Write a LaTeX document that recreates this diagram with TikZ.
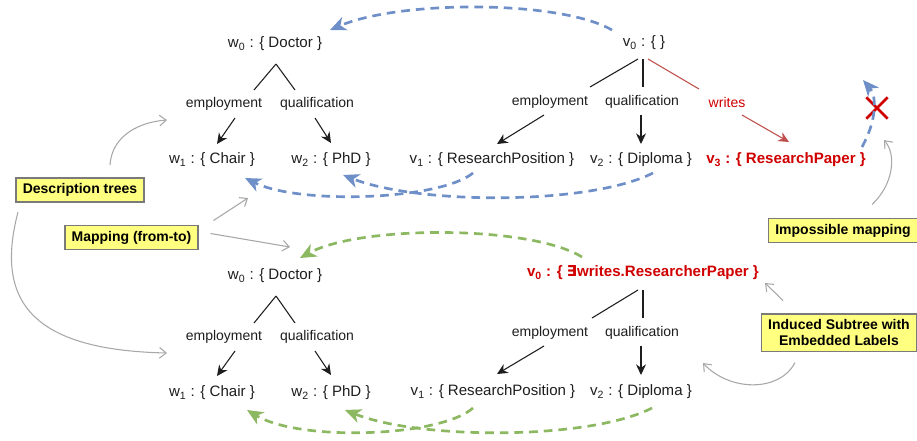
\documentclass[tikz,border=0pt]{standalone}
\usepackage{fontspec}
\setmainfont{Liberation Sans}
\newfontfamily\symfont{DejaVu Sans}
\usepackage{xcolor}
\usepackage{tikz}
\usetikzlibrary{arrows.meta,positioning,calc,shapes.misc}
\definecolor{dtInk}{HTML}{1E1E1E}
\definecolor{dtRed}{HTML}{D00000}
\definecolor{dtRose}{HTML}{C0504D}
\definecolor{dtBlue}{HTML}{6F8FC8}
\definecolor{dtGreen}{HTML}{8BB860}
\definecolor{dtGrey}{HTML}{A8A8A8}
\definecolor{dtNote}{HTML}{FFFF80}
\definecolor{dtFrame}{HTML}{7A7A7A}
\tikzset{
  tree node/.style={text=dtInk,inner sep=2pt,font=\fontsize{11.3}{13}\selectfont},
  bad node/.style={tree node,text=dtRed,font=\fontsize{11.3}{13}\selectfont\bfseries},
  edge label/.style={text=dtInk,inner sep=1pt,font=\fontsize{10.5}{12}\selectfont},
  tree edge/.style={draw=dtInk,line width=0.8pt},
  tree arrow/.style={tree edge,-{Stealth[length=8pt,width=7.5pt]}},
  map arrow/.style={-{Stealth[length=12pt,width=10.5pt,inset=3.5pt]},line width=2pt,
    dash pattern=on 6.5pt off 4.5pt},
  note box/.style={draw=dtFrame,line width=1.2pt,fill=dtNote,inner xsep=5pt,inner ysep=4pt,
    font=\fontsize{10.5}{12.5}\selectfont\bfseries,align=center},
  note arrow/.style={draw=dtGrey,line width=0.8pt,-{Straight Barb[length=5pt,width=8pt]}}
}

\begin{document}
\begin{tikzpicture}[x=0.75pt,y=-0.75pt]
\useasboundingbox[fill=white] (0,0) rectangle (917,440);

% upper pair of description trees
\node[tree node] (w0) at (275,44) {w\textsubscript{0} : \{ Doctor \}};
\node[edge label] (we) at (224,104) {employment};
\node[edge label] (wq) at (317,104) {qualification};
\node[tree node] (w1) at (212,160) {w\textsubscript{1} : \{ Chair \}};
\node[tree node] (w2) at (331,160) {w\textsubscript{2} : \{ PhD \}};

\node[tree node] (v0) at (644,43) {v\textsubscript{0} : \{ \}};
\node[edge label] (ve) at (550,102) {employment};
\node[edge label] (vq) at (642,102) {qualification};
\node[edge label,text=dtRed] (vw) at (727,102) {writes};
\node[tree node] (v1) at (492,160) {v\textsubscript{1} : \{ ResearchPosition \}};
\node[tree node] (v2) at (641,160) {v\textsubscript{2} : \{ Diploma \}};
\node[bad node] (v3) at (786,160) {v\textsubscript{3} : \{ ResearchPaper \}};

\draw[tree edge] ($(w0)+(1,20)$) -- ($(we)+(30,-14)$);
\draw[tree edge] ($(w0)+(1,20)$) -- ($(wq)+(-22,-14)$);
\draw[tree arrow] ($(we)+(11,14)$) -- ($(w1)+(5,-16)$);
\draw[tree arrow] ($(wq)+(-2,14)$) -- ($(w2)+(0,-17)$);

\draw[tree edge] ($(v0)+(-6,16)$) -- ($(ve)+(40,-15)$);
\draw[tree edge] ($(v0)+(-1,16)$) -- ($(vq)+(1,-15)$);
\draw[tree edge,draw=dtRose] ($(v0)+(4,16)$) -- ($(vw)+(-28,-13)$);
\draw[tree arrow] ($(ve)+(-6,13)$) -- ($(v1)+(5,-16)$);
\draw[tree arrow] ($(vq)+(-1,13)$) -- ($(v2)+(0,-16)$);
\draw[tree arrow,draw=dtRose] ($(vw)+(15,13)$) -- ($(v3)+(3,-18)$);

% lower pair, with the labels pushed into the root
\node[tree node] (bw0) at (275,276) {w\textsubscript{0} : \{ Doctor \}};
\node[edge label] (bwe) at (224,337) {employment};
\node[edge label] (bwq) at (317,337) {qualification};
\node[tree node] (bw1) at (212,393) {w\textsubscript{1} : \{ Chair \}};
\node[tree node] (bw2) at (331,393) {w\textsubscript{2} : \{ PhD \}};

\node[bad node] (bv0) at (643,273) {v\textsubscript{0} : \{ {\symfont ∃}writes.ResearcherPaper \}};
\node[edge label] (bve) at (550,333) {employment};
\node[edge label] (bvq) at (642,333) {qualification};
\node[tree node] (bv1) at (493,392) {v\textsubscript{1} : \{ ResearchPosition \}};
\node[tree node] (bv2) at (641,392) {v\textsubscript{2} : \{ Diploma \}};

\draw[tree edge] ($(bw0)+(1,20)$) -- ($(bwe)+(30,-14)$);
\draw[tree edge] ($(bw0)+(1,20)$) -- ($(bwq)+(-22,-14)$);
\draw[tree arrow] ($(bwe)+(11,14)$) -- ($(bw1)+(5,-17)$);
\draw[tree arrow] ($(bwq)+(-2,14)$) -- ($(bw2)+(0,-18)$);

\draw[tree edge] ($(bv0)+(-5,17)$) -- ($(bve)+(42,-15)$);
\draw[tree edge] ($(bv0)+(0,17)$) -- ($(bvq)+(1,-15)$);
\draw[tree arrow] ($(bve)+(-6,13)$) -- ($(bv1)+(4,-18)$);
\draw[tree arrow] ($(bvq)+(-1,13)$) -- ($(bv2)+(0,-17)$);

% mappings
\draw[map arrow,draw=dtBlue] ($(v0)+(-32,-13)$) .. controls (560,0) and (400,0) .. ($(w0)+(55,-14)$);
\draw[map arrow,draw=dtBlue] ($(v1)+(-19,13)$) .. controls (440,200) and (300,205) .. ($(w1)+(33,18)$);
\draw[map arrow,draw=dtBlue] ($(v2)+(12,13)$) .. controls (590,205) and (420,205) .. ($(w2)+(12,15)$);

\node[cross out,draw=dtRed,line width=2pt,minimum size=14pt,inner sep=0pt] (cross) at (877,108) {};
\coordinate (lost) at (863,80);
\draw[map arrow,draw=dtBlue] ($(v3)+(76,-13)$) .. controls (878,118) and (876,95) .. (lost);

\draw[map arrow,draw=dtGreen] ($(bv0)+(-61,-16)$) .. controls (530,225) and (360,225) .. ($(bw0)+(25,-18)$);
\draw[map arrow,draw=dtGreen] ($(bv1)+(-20,16)$) .. controls (440,437) and (300,442) .. ($(bw1)+(35,17)$);
\draw[map arrow,draw=dtGreen] ($(bv2)+(11,16)$) .. controls (590,440) and (420,440) .. ($(bw2)+(14,17)$);

% call-outs
\node[note box] (trees) at (80,190) {Description trees};
\node[note box] (maps) at (131.5,237.5) {Mapping (from-to)};
\node[note box] (nomap) at (843,230.5) {Impossible mapping};
\node[note box] (induced) at (839,332.5) {Induced Subtree with\\Embedded Labels};

\draw[note arrow] ($(trees)+(30,-25)$) .. controls (112,135) and (140,122) .. ($(we)+(-57,16)$);
\draw[note arrow] ($(trees)+(-62,22)$) .. controls (-5,300) and (30,350) .. ($(bwe)+(-57,16)$);
\draw[note arrow] ($(maps)+(82,-17)$) -- ($(w1)+(36,38)$);
\draw[note arrow] ($(maps)+(79,-4)$) -- ($(bw0)+(15,-29)$);
\draw[note arrow] ($(nomap)+(29,-26)$) .. controls (893,185) and (897,155) .. ($(cross)+(7,32)$);
\draw[note arrow] ($(induced)+(-56,-32)$) -- ($(bv0)+(122,10)$);
\draw[note arrow] ($(induced)+(-44,30)$) .. controls (780,392) and (730,392) .. ($(bv2)+(62,-29)$);
\end{tikzpicture}
\end{document}
